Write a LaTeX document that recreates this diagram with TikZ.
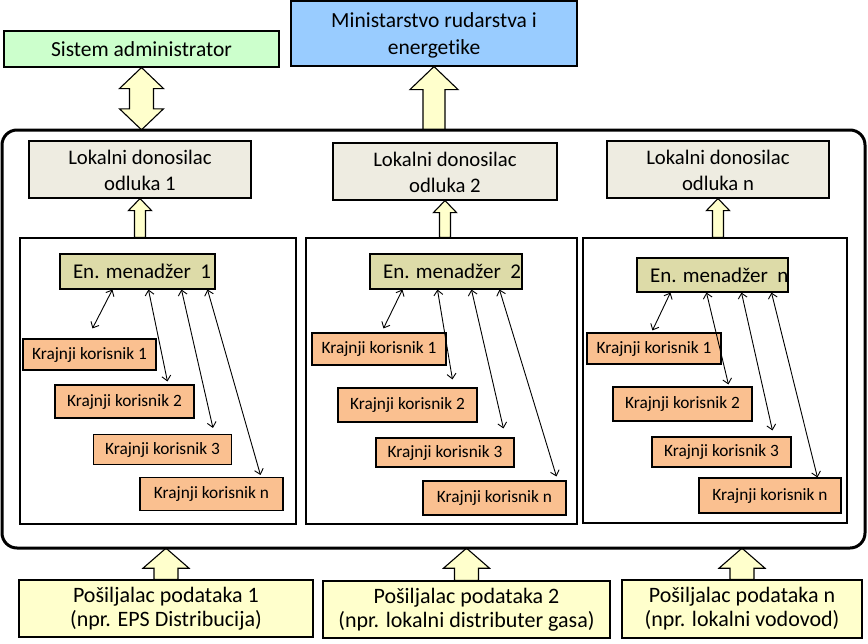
\documentclass[tikz,border=0pt]{standalone}
\usepackage{fontspec}
\setmainfont{Carlito}[Ligatures=NoCommon]
\usetikzlibrary{arrows.meta,calc}
\definecolor{admg}{HTML}{CCFFCC}
\definecolor{minb}{HTML}{99CCFF}
\definecolor{lokg}{HTML}{EEECE1}
\definecolor{emol}{HTML}{DDDBA8}
\definecolor{kor}{HTML}{FAC090}
\definecolor{yel}{HTML}{FFFFCC}
\newcommand\myfs[2]{\fontsize{#1}{#2}\selectfont}
\newcommand\uparr[5]{%
  \draw[barrow] ($(#1)+(-#3,0)$) -- ($(#2)+(-#3,#5)$) -- ($(#2)+(-#4,#5)$) -- (#2)
   -- ($(#2)+(#4,#5)$) -- ($(#2)+(#3,#5)$) -- ($(#1)+(#3,0)$) -- cycle;}
\newcommand\dblarr[5]{%
  \draw[barrow] (#1) -- ($(#1)+(#4,#5)$) -- ($(#1)+(#3,#5)$) -- ($(#2)+(#3,-#5)$)
   -- ($(#2)+(#4,-#5)$) -- (#2) -- ($(#2)+(-#4,-#5)$) -- ($(#2)+(-#3,-#5)$)
   -- ($(#1)+(-#3,#5)$) -- ($(#1)+(-#4,#5)$) -- cycle;}
\newcommand\lowtxt[2]{\raisebox{-#1}[\height][\depth]{\begin{tabular}{@{}c@{}}#2\end{tabular}}}
\tikzset{
  box/.style={draw=black, line width=1.1pt, inner sep=0pt, align=center},
  sz/.style 2 args={minimum width=#1pt, minimum height=#2pt},
  admbox/.style={box, fill=admg, font=\myfs{21.5}{26}},
  minbox/.style={box, fill=minb, font=\myfs{21.5}{27}},
  lokbox/.style={box, fill=lokg, font=\myfs{20.7}{26}},
  panel/.style={draw=black, line width=1.1pt, fill=white, inner sep=0pt},
  embox/.style={box, fill=emol, font=\myfs{21}{25}},
  korbox/.style={box, fill=kor, font=\myfs{17.3}{20}},
  botbox/.style={box, fill=yel, font=\myfs{22}{24}},
  bigbox/.style={draw=black, line width=3pt, rounded corners=15pt, inner sep=0pt},
  barrow/.style={draw=black, fill=yel, line width=1.1pt, line join=miter},
  link/.style={draw=black, line width=0.9pt,
    {Straight Barb[length=5pt,width=9pt]}-{Straight Barb[length=5pt,width=9pt]}},
}
\begin{document}
\begin{tikzpicture}[x=1pt,y=-1pt]
\useasboundingbox (0,0) rectangle (868,643);
\fill[white] (0,0) rectangle (868,643);

% top boxes
\node[admbox, sz={275}{36}] (adm) at (141.5,49) {Sistem administrator};
\node[minbox, sz={286}{65}] (mini) at (434,33.5) {\lowtxt{2pt}{Ministarstvo rudarstva i\\energetike}};

% big container (geometry only, drawn later)
\path (433.5,339) node[sz={863}{418}, inner sep=0pt] (bigref) {};

% panels
\node[panel, sz={276}{286}] (pan1) at (158,381) {};
\node[panel, sz={271}{286}] (pan2) at (441.5,381) {};
\node[panel, sz={264}{285}] (pan3) at (715,380.5) {};

% local decision makers
\node[lokbox, sz={222}{57}] (lok1) at (140,169.5) {\lowtxt{3pt}{Lokalni donosilac\\odluka 1}};
\node[lokbox, sz={224}{57}] (lok2) at (445,171.5) {\lowtxt{3pt}{Lokalni donosilac\\odluka 2}};
\node[lokbox, sz={222}{57}] (lok3) at (718,169.5) {\lowtxt{3pt}{Lokalni donosilac\\odluka n}};

% energy managers
\node[embox, sz={155}{35}] (em1) at (137.5,271.5) {\makebox[155pt][l]{\hspace{13pt}En. menadžer~~1}};
\node[embox, sz={152}{35}] (em2) at (446,271.5) {\makebox[152pt][l]{\hspace{13pt}En. menadžer~~2}};
\node[embox, sz={151}{34}] (em3) at (712.5,275) {\makebox[151pt][l]{\hspace{13pt}En. menadžer~~n}};

% end users panel 1
\node[korbox, sz={133}{31}] (k11) at (89.5,354.5) {Krajnji korisnik 1};
\node[korbox, sz={139}{33}] (k12) at (124.5,401.5) {Krajnji korisnik 2};
\node[korbox, sz={138}{30}] (k13) at (162.5,449.5) {Krajnji korisnik 3};
\node[korbox, sz={143}{33}] (k14) at (211.5,494) {Krajnji korisnik n};
% panel 2
\node[korbox, sz={134}{32}] (k21) at (379,349) {Krajnji korisnik 1};
\node[korbox, sz={139}{34}] (k22) at (407.5,405) {Krajnji korisnik 2};
\node[korbox, sz={138}{29}] (k23) at (445,452.5) {Krajnji korisnik 3};
\node[korbox, sz={143}{34}] (k24) at (494.5,498) {Krajnji korisnik n};
% panel 3
\node[korbox, sz={134}{31}] (k31) at (654,348.5) {Krajnji korisnik 1};
\node[korbox, sz={139}{34}] (k32) at (682.5,404) {Krajnji korisnik 2};
\node[korbox, sz={139}{30}] (k33) at (721.5,452) {Krajnji korisnik 3};
\node[korbox, sz={142}{35}] (k34) at (770,495.5) {Krajnji korisnik n};

% bottom data senders
\node[botbox, sz={294}{57}] (bot1) at (166,608.5) {Pošiljalac podataka 1\\(npr. EPS Distribucija)};
\node[botbox, sz={287}{57}] (bot2) at (466.5,609.5) {Pošiljalac podataka 2\\(npr. lokalni distributer gasa)};
\node[botbox, sz={240}{58}] (bot3) at (742,609) {Pošiljalac podataka n\\(npr. lokalni vodovod)};

% block arrows
\coordinate (admT) at (adm.south);
\coordinate (admB) at (adm.south |- bigref.north);
\dblarr{admT}{admB}{12}{22}{21}
\coordinate (minT) at (mini.south);
\coordinate (minB) at (mini.south |- bigref.north);
\uparr{minB}{minT}{11}{24}{23}
\foreach \i in {1,2,3}{
  \coordinate (lt\i) at (lok\i.south);
  \coordinate (lb\i) at (lok\i.south |- pan\i.north);
  \uparr{lb\i}{lt\i}{5.5}{11.5}{12}
  \coordinate (bt\i) at (bot\i.north |- bigref.south);
  \coordinate (bb\i) at (bot\i.north);
  \uparr{bb\i}{bt\i}{12}{23}{20}
}

% big container
\node[bigbox, sz={863}{418}] (big) at (433.5,339) {};

% links panel 1
\draw[link] ([xshift=53pt]em1.south west) -- ([xshift=70pt,yshift=10pt]k11.north west);
\draw[link] ([xshift=89pt]em1.south west) -- ([xshift=113pt,yshift=3pt]k12.north west);
\draw[link] ([xshift=122pt]em1.south west) -- ([xshift=120pt,yshift=6pt]k13.north west);
\draw[link] ([xshift=148pt]em1.south west) -- ([xshift=121pt,yshift=2pt]k14.north west);
% links panel 2
\draw[link] ([xshift=33pt]em2.south west) -- ([xshift=72pt,yshift=4pt]k21.north west);
\draw[link] ([xshift=68pt]em2.south west) -- ([xshift=115pt,yshift=8pt]k22.north west);
\draw[link] ([xshift=102pt]em2.south west) -- ([xshift=128pt,yshift=9pt]k23.north west);
\draw[link] ([xshift=130pt]em2.south west) -- ([xshift=134pt,yshift=4pt]k24.north west);
% links panel 3
\draw[link] ([xshift=34pt]em3.south west) -- ([xshift=66pt,yshift=2pt]k31.north west);
\draw[link] ([xshift=70pt]em3.south west) -- ([xshift=116pt,yshift=2pt]k32.north west);
\draw[link] ([xshift=105pt]em3.south west) -- ([xshift=121pt,yshift=6pt]k33.north west);
\draw[link] ([xshift=135pt]em3.south west) -- ([xshift=119pt,yshift=0pt]k34.north west);
\end{tikzpicture}
\end{document}
